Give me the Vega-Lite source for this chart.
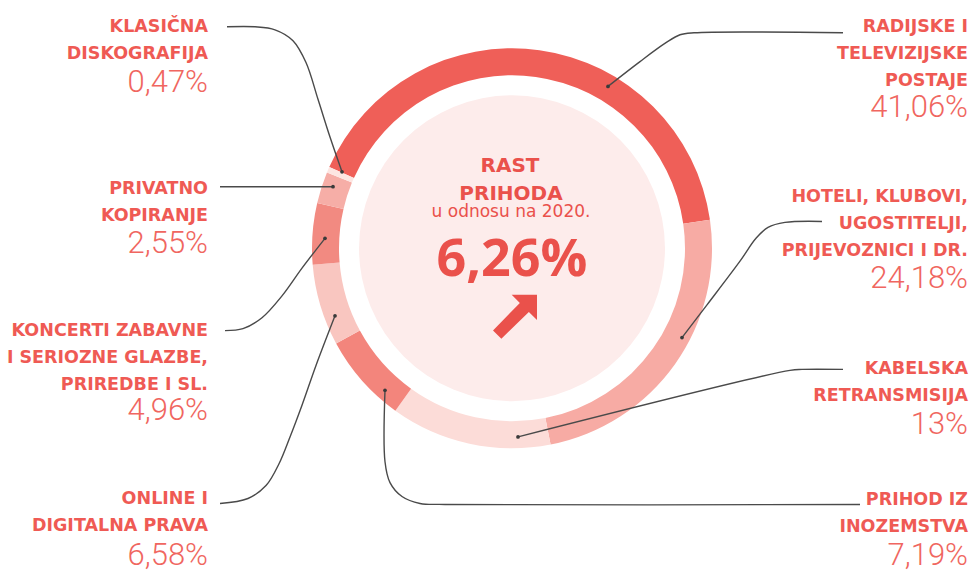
{
  "$schema": "https://vega.github.io/schema/vega-lite/v6.json",
  "width": 973,
  "height": 571,
  "autosize": {"type": "fit", "contains": "padding"},
  "padding": 0,
  "background": "white",
  "config": {"view": {"stroke": null}},
  "datasets": {
    "slices": [
      {"name": "Radijske i televizijske postaje", "value": 41.06, "rank": 1},
      {"name": "Hoteli, klubovi, ugostitelji, prijevoznici i dr.", "value": 24.18, "rank": 2},
      {"name": "Kabelska retransmisija", "value": 13, "rank": 3},
      {"name": "Prihod iz inozemstva", "value": 7.19, "rank": 4},
      {"name": "Online i digitalna prava", "value": 6.58, "rank": 5},
      {"name": "Koncerti zabavne i seriozne glazbe, priredbe i sl.", "value": 4.96, "rank": 6},
      {"name": "Privatno kopiranje", "value": 2.55, "rank": 7},
      {"name": "Klasična diskografija", "value": 0.47, "rank": 8}
    ],
    "leaders": [
      {"id": "klas", "i": 0, "x": 342, "y": 173},
      {"id": "klas", "i": 1, "x": 330, "y": 138},
      {"id": "klas", "i": 2, "x": 318, "y": 100},
      {"id": "klas", "i": 3, "x": 306, "y": 63},
      {"id": "klas", "i": 4, "x": 293, "y": 41},
      {"id": "klas", "i": 5, "x": 275, "y": 30},
      {"id": "klas", "i": 6, "x": 255, "y": 27},
      {"id": "klas", "i": 7, "x": 227, "y": 27},
      {"id": "priv", "i": 0, "x": 333, "y": 188},
      {"id": "priv", "i": 1, "x": 220, "y": 188},
      {"id": "konc", "i": 0, "x": 325, "y": 240},
      {"id": "konc", "i": 1, "x": 302, "y": 270},
      {"id": "konc", "i": 2, "x": 282, "y": 298},
      {"id": "konc", "i": 3, "x": 262, "y": 320},
      {"id": "konc", "i": 4, "x": 243, "y": 331},
      {"id": "konc", "i": 5, "x": 225, "y": 333},
      {"id": "onl", "i": 0, "x": 335, "y": 318},
      {"id": "onl", "i": 1, "x": 316, "y": 368},
      {"id": "onl", "i": 2, "x": 302, "y": 408},
      {"id": "onl", "i": 3, "x": 290, "y": 440},
      {"id": "onl", "i": 4, "x": 279, "y": 467},
      {"id": "onl", "i": 5, "x": 266, "y": 489},
      {"id": "onl", "i": 6, "x": 248, "y": 502},
      {"id": "onl", "i": 7, "x": 220, "y": 507},
      {"id": "inoz", "i": 0, "x": 385, "y": 393},
      {"id": "inoz", "i": 1, "x": 385, "y": 465},
      {"id": "inoz", "i": 2, "x": 390, "y": 486},
      {"id": "inoz", "i": 3, "x": 402, "y": 500},
      {"id": "inoz", "i": 4, "x": 420, "y": 507},
      {"id": "inoz", "i": 5, "x": 445, "y": 508},
      {"id": "inoz", "i": 6, "x": 860, "y": 508},
      {"id": "kab", "i": 0, "x": 518, "y": 440},
      {"id": "kab", "i": 1, "x": 790, "y": 373},
      {"id": "kab", "i": 2, "x": 802, "y": 372},
      {"id": "kab", "i": 3, "x": 843, "y": 372},
      {"id": "hot", "i": 0, "x": 682, "y": 340},
      {"id": "hot", "i": 1, "x": 707, "y": 307},
      {"id": "hot", "i": 2, "x": 740, "y": 263},
      {"id": "hot", "i": 3, "x": 756, "y": 240},
      {"id": "hot", "i": 4, "x": 768, "y": 229},
      {"id": "hot", "i": 5, "x": 785, "y": 224},
      {"id": "hot", "i": 6, "x": 822, "y": 223},
      {"id": "rad", "i": 0, "x": 608, "y": 87},
      {"id": "rad", "i": 1, "x": 640, "y": 62},
      {"id": "rad", "i": 2, "x": 666, "y": 43},
      {"id": "rad", "i": 3, "x": 680, "y": 35},
      {"id": "rad", "i": 4, "x": 694, "y": 33},
      {"id": "rad", "i": 5, "x": 843, "y": 33}
    ],
    "labels": [
      {"lines": "KLASIČNA\nDISKOGRAFIJA", "pct": "0,47%", "x": 208, "y": 32, "py": 93},
      {"lines": "PRIVATNO\nKOPIRANJE", "pct": "2,55%", "x": 208, "y": 195, "py": 255},
      {"lines": "KONCERTI ZABAVNE\nI SERIOZNE GLAZBE,\nPRIREDBE I SL.", "pct": "4,96%", "x": 208, "y": 338, "py": 423},
      {"lines": "ONLINE I\nDIGITALNA PRAVA", "pct": "6,58%", "x": 208, "y": 508, "py": 569},
      {"lines": "RADIJSKE I\nTELEVIZIJSKE\nPOSTAJE", "pct": "41,06%", "x": 968, "y": 32, "py": 118},
      {"lines": "HOTELI, KLUBOVI,\nUGOSTITELJI,\nPRIJEVOZNICI I DR.", "pct": "24,18%", "x": 968, "y": 203, "py": 290},
      {"lines": "KABELSKA\nRETRANSMISIJA", "pct": "13%", "x": 968, "y": 377, "py": 437},
      {"lines": "PRIHOD IZ\nINOZEMSTVA", "pct": "7,19%", "x": 968, "y": 509, "py": 569}
    ]
  },
  "layer": [
    {
      "data": {"values": [{"part": "disk"}]},
      "mark": {"type": "arc", "outerRadius": 153, "innerRadius": 0, "theta": 0, "theta2": 6.2832, "color": "#fdeceb"},
      "encoding": {
        "x": {"datum": 512, "type": "quantitative", "scale": {"domain": [0, 973]}, "axis": null},
        "y": {"datum": 250, "type": "quantitative", "scale": {"domain": [0, 571], "reverse": true}, "axis": null}
      }
    },
    {
      "data": {"name": "slices"},
      "mark": {"type": "arc", "outerRadius": 200, "innerRadius": 173},
      "encoding": {
        "theta": {"field": "value", "type": "quantitative", "stack": true, "scale": {"range": [-1.152, 5.131]}},
        "order": {"field": "rank", "type": "quantitative"},
        "color": {
          "field": "name", "type": "nominal", "legend": null,
          "scale": {
            "domain": ["Radijske i televizijske postaje", "Hoteli, klubovi, ugostitelji, prijevoznici i dr.", "Kabelska retransmisija", "Prihod iz inozemstva", "Online i digitalna prava", "Koncerti zabavne i seriozne glazbe, priredbe i sl.", "Privatno kopiranje", "Klasična diskografija"],
            "range": ["#ef5f58", "#f7aba4", "#fcdcd8", "#f3857c", "#f9c6c0", "#f28a81", "#f6aea7", "#fde6e2"]
          }
        },
        "x": {"datum": 512, "type": "quantitative", "scale": {"domain": [0, 973]}, "axis": null},
        "y": {"datum": 250, "type": "quantitative", "scale": {"domain": [0, 571], "reverse": true}, "axis": null}
      }
    },
    {
      "data": {"name": "leaders"},
      "mark": {"type": "line", "interpolate": "catmull-rom", "color": "#4a4a4a", "strokeWidth": 1.4},
      "encoding": {
        "x": {"field": "x", "type": "quantitative", "scale": {"domain": [0, 973]}, "axis": null},
        "y": {"field": "y", "type": "quantitative", "scale": {"domain": [0, 571], "reverse": true}, "axis": null},
        "detail": {"field": "id"},
        "order": {"field": "i", "type": "quantitative"}
      }
    },
    {
      "data": {"name": "leaders"},
      "transform": [{"filter": "datum.i == 0"}],
      "mark": {"type": "point", "filled": true, "color": "#3a3a3a", "size": 14, "opacity": 1},
      "encoding": {
        "x": {"field": "x", "type": "quantitative", "scale": {"domain": [0, 973]}, "axis": null},
        "y": {"field": "y", "type": "quantitative", "scale": {"domain": [0, 571], "reverse": true}, "axis": null}
      }
    },
    {
      "data": {"name": "labels"},
      "mark": {"type": "text", "align": "right", "baseline": "alphabetic", "font": "DejaVu Sans", "fontWeight": "bold", "fontSize": 17.5, "lineBreak": "\n", "lineHeight": 27, "color": "#ef5a54"},
      "encoding": {
        "x": {"field": "x", "type": "quantitative", "scale": {"domain": [0, 973]}, "axis": null},
        "y": {"field": "y", "type": "quantitative", "scale": {"domain": [0, 571], "reverse": true}, "axis": null},
        "text": {"field": "lines"}
      }
    },
    {
      "data": {"name": "labels"},
      "mark": {"type": "text", "align": "right", "baseline": "alphabetic", "font": "Roboto", "fontWeight": 300, "fontSize": 31, "color": "#f06660"},
      "encoding": {
        "x": {"field": "x", "type": "quantitative", "scale": {"domain": [0, 973]}, "axis": null},
        "y": {"field": "py", "type": "quantitative", "scale": {"domain": [0, 571], "reverse": true}, "axis": null},
        "text": {"field": "pct"}
      }
    },
    {
      "data": {"values": [{"t": "RAST", "x": 510, "y": 173}, {"t": "PRIHODA", "x": 511, "y": 201}]},
      "mark": {"type": "text", "align": "center", "baseline": "alphabetic", "font": "DejaVu Sans", "fontWeight": "bold", "fontSize": 20, "color": "#ea514b"},
      "encoding": {
        "x": {"field": "x", "type": "quantitative", "scale": {"domain": [0, 973]}, "axis": null},
        "y": {"field": "y", "type": "quantitative", "scale": {"domain": [0, 571], "reverse": true}, "axis": null},
        "text": {"field": "t"}
      }
    },
    {
      "data": {"values": [{"t": "u odnosu na 2020.", "x": 511, "y": 219}]},
      "mark": {"type": "text", "align": "center", "baseline": "alphabetic", "font": "DejaVu Sans", "fontSize": 17, "color": "#ea514b"},
      "encoding": {
        "x": {"field": "x", "type": "quantitative", "scale": {"domain": [0, 973]}, "axis": null},
        "y": {"field": "y", "type": "quantitative", "scale": {"domain": [0, 571], "reverse": true}, "axis": null},
        "text": {"field": "t"}
      }
    },
    {
      "data": {"values": [{"t": "6,26%", "x": 512, "y": 278}]},
      "mark": {"type": "text", "align": "center", "baseline": "alphabetic", "font": "Open Sans", "fontWeight": "bold", "fontSize": 52, "color": "#ea514b"},
      "encoding": {
        "x": {"field": "x", "type": "quantitative", "scale": {"domain": [0, 973]}, "axis": null},
        "y": {"field": "y", "type": "quantitative", "scale": {"domain": [0, 571], "reverse": true}, "axis": null},
        "text": {"field": "t"}
      }
    },
    {
      "data": {"values": [{"symbol": "arrow up-right", "x": 515, "y": 319}]},
      "mark": {"type": "point", "filled": true, "opacity": 1, "color": "#ea514b", "size": 1936, "shape": "M1,-1 L1,0.15 L0.63,-0.22 L-0.62,1 L-1,0.62 L0.22,-0.63 L-0.15,-1 Z"},
      "encoding": {
        "x": {"field": "x", "type": "quantitative", "scale": {"domain": [0, 973]}, "axis": null},
        "y": {"field": "y", "type": "quantitative", "scale": {"domain": [0, 571], "reverse": true}, "axis": null}
      }
    }
  ]
}
